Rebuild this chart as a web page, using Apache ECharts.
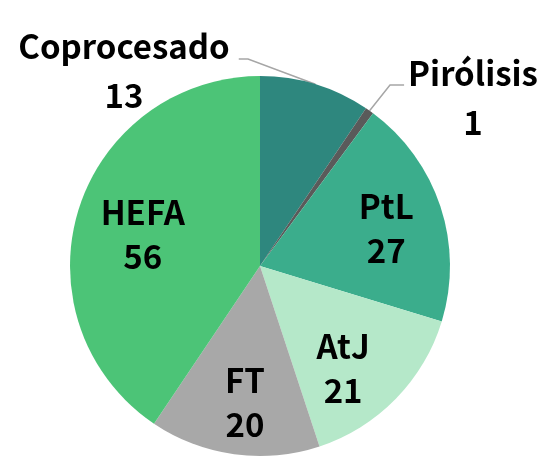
<!DOCTYPE html>
<html>
<head>
<meta charset="utf-8">
<script src="https://cdn.jsdelivr.net/npm/echarts@6/dist/echarts.min.js"></script>
<style>
  html, body { margin: 0; padding: 0; background: #fff; }
  #main { width: 548px; height: 462px; }
</style>
</head>
<body>
<div id="main"></div>
<script>
// data
const categories = ['Coprocesado', 'Pirólisis', 'PtL', 'AtJ', 'FT', 'HEFA']
const values = [13, 1, 27, 21, 20, 56]
const colors = ['#2e877e', '#5a5a5a', '#3bad8c', '#b5e8c9', '#a8a8a8', '#4cc477']
const outsideNames = ['Coprocesado', 'Pirólisis']

const FONT = '"Noto Sans CJK SC", "Noto Sans", sans-serif'
const CENTER = [260, 266]
const R = 190

// where the two outside labels sit (centre of text block) and which side the line joins
const outsidePos = {
  'Coprocesado': { x: 124, y: 71, side: 'right', lineY: 59, bend: 248 },
  'Pirólisis': { x: 473, y: 98, side: 'left', lineY: 85, bend: 390 }
}
// small nudges for the inside labels
const insideNudge = {
  'PtL': [0, 4],
  'AtJ': [-12, 9],
  'FT': [3, 5],
  'HEFA': [10, 7]
}

const chart = echarts.init(document.getElementById('main'))

const baseData = categories.map((name, i) => ({
  name,
  value: values[i],
  itemStyle: { color: colors[i] },
  label: { show: outsideNames.includes(name) },
  labelLine: { show: outsideNames.includes(name) }
}))

const overlayData = categories.map((name, i) => ({
  name,
  value: values[i],
  label: { show: !outsideNames.includes(name) }
}))

chart.setOption({
  animation: false,
  series: [
    {
      type: 'pie',
      center: CENTER,
      radius: R,
      startAngle: 90,
      clockwise: true,
      silent: true,
      data: baseData,
      label: {
        position: 'outside',
        formatter: '{b}\n{c}',
        fontFamily: FONT,
        fontWeight: 'bold',
        fontSize: 33,
        lineHeight: 49,
        color: '#000',
        align: 'center',
        overflow: 'none'
      },
      labelLine: {
        lineStyle: { color: '#a6a6a6', width: 1.5 }
      },
      labelLayout: function (p) {
        const name = categories[p.dataIndex]
        const pos = outsidePos[name]
        if (!pos) return {}
        const w = p.labelRect.width
        const edgeX = pos.side === 'right' ? pos.x + w / 2 + 9 : pos.x - w / 2 - 4
        return {
          x: pos.x,
          y: pos.y,
          align: 'center',
          verticalAlign: 'middle',
          labelLinePoints: [p.labelLinePoints[0], [pos.bend, pos.lineY], [edgeX, pos.lineY]]
        }
      }
    },
    {
      // transparent ring only used to put the inside labels further out
      type: 'pie',
      center: CENTER,
      radius: [70, R],
      startAngle: 90,
      clockwise: true,
      silent: true,
      itemStyle: { color: 'rgba(0,0,0,0)' },
      data: overlayData,
      label: {
        position: 'inside',
        formatter: '{b}\n{c}',
        fontFamily: FONT,
        fontWeight: 'bold',
        fontSize: 33,
        lineHeight: 44,
        color: '#000'
      },
      labelLine: { show: false },
      labelLayout: function (p) {
        const n = insideNudge[categories[p.dataIndex]]
        if (!n) return {}
        return { dx: n[0], dy: n[1] }
      }
    }
  ]
})
</script>
</body>
</html>
